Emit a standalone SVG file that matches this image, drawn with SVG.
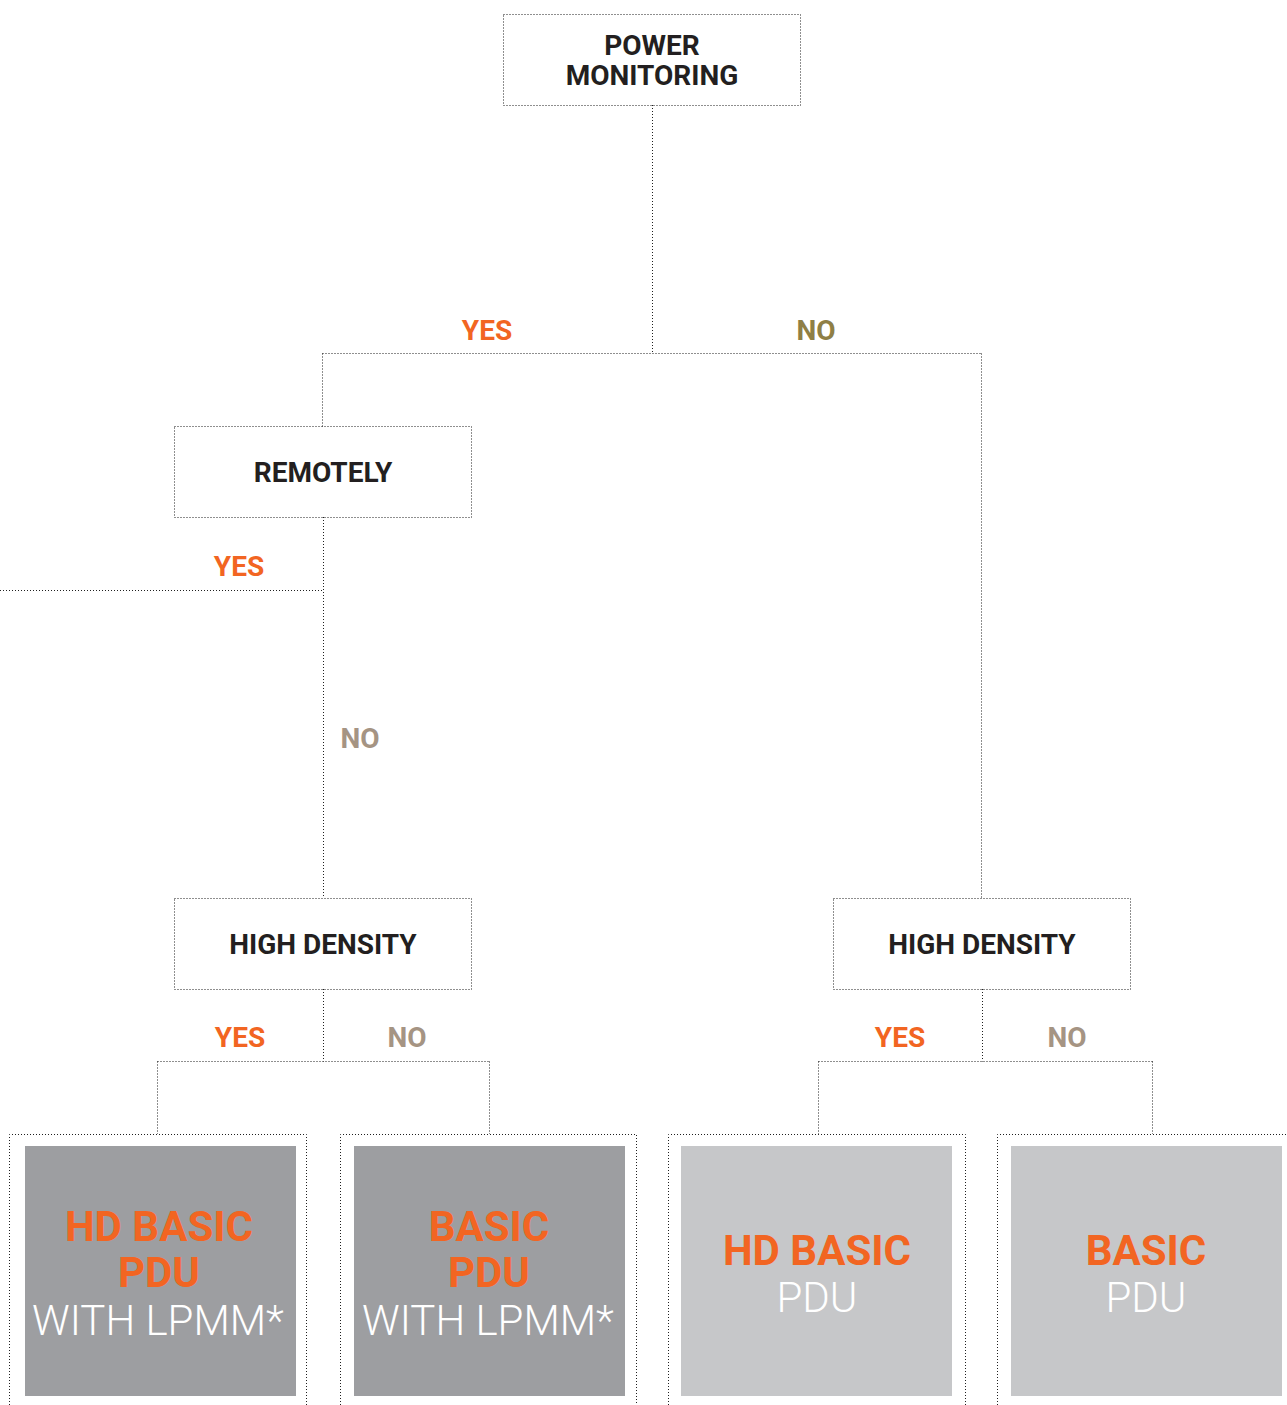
<svg xmlns="http://www.w3.org/2000/svg" width="1287" height="1405" viewBox="0 0 1287 1405">
<style>
.dot{fill:none;stroke:#1f1f1f;stroke-width:1;stroke-dasharray:1 2}
.q{font-family:Roboto,"Liberation Sans",sans-serif;font-weight:700;font-size:28px;fill:#231f20;text-anchor:middle}
.yes{font-family:Roboto,"Liberation Sans",sans-serif;font-weight:700;font-size:28px;fill:#f26522;text-anchor:middle}
.no{font-family:Roboto,"Liberation Sans",sans-serif;font-weight:700;font-size:28px;fill:#a59483;text-anchor:middle}
.no2{fill:#8f7f45}
.rb{font-family:Roboto,"Liberation Sans",sans-serif;font-weight:700;font-size:42px;fill:#f26522;text-anchor:middle}
.rl{font-family:Roboto,"Liberation Sans",sans-serif;font-weight:300;font-size:42px;fill:#ffffff;text-anchor:middle}
.dark{fill:#9d9ea1}
.light{fill:#c6c7c9}
</style>
<rect width="1287" height="1405" fill="#ffffff"/>
<g id="connectors">
<path class="dot" d="M652.5 105 V353.5 M322.5 353.5 H981.5 M322.5 353.5 V427 M981.5 353.5 V898"/>
<path class="dot" d="M323.5 517 V898 M0 590.5 H323.5"/>
<path class="dot" d="M323.5 989 V1061.5 M157.5 1061.5 H489.5 M157.5 1061.5 V1134 M489.5 1061.5 V1134"/>
<path class="dot" d="M982.5 989 V1061.5 M818.5 1061.5 H1152.5 M818.5 1061.5 V1134 M1152.5 1061.5 V1134"/>
<text class="yes" x="487" y="340">YES</text>
<text class="no no2" x="816" y="340">NO</text>
<text class="yes" x="239" y="576">YES</text>
<text class="no" x="360" y="748">NO</text>
<text class="yes" x="240" y="1047">YES</text>
<text class="no" x="407" y="1047">NO</text>
<text class="yes" x="900" y="1047">YES</text>
<text class="no" x="1067" y="1047">NO</text>
</g>
<g id="power-monitoring">
<rect class="dot" x="503.5" y="14.5" width="297" height="91"/>
<text class="q" x="652" y="55">POWER</text>
<text class="q" x="652" y="85">MONITORING</text>
</g>
<g id="remotely">
<rect class="dot" x="174.5" y="426.5" width="297" height="91"/>
<text class="q" x="323" y="482">REMOTELY</text>
</g>
<g id="high-density-left">
<rect class="dot" x="174.5" y="898.5" width="297" height="91"/>
<text class="q" x="323" y="954">HIGH DENSITY</text>
</g>
<g id="high-density-right">
<rect class="dot" x="833.5" y="898.5" width="297" height="91"/>
<text class="q" x="982" y="954">HIGH DENSITY</text>
</g>
<g id="result-hd-basic-lpmm">
<path class="dot" d="M9.5 1405 V1134.5 H306.5 V1405"/>
<rect class="dark" x="25" y="1146" width="271" height="250"/>
<text class="rb" x="159" y="1241">HD BASIC</text>
<text class="rb" x="159" y="1287">PDU</text>
<text class="rl" x="158" y="1335">WITH LPMM*</text>
</g>
<g id="result-basic-lpmm">
<path class="dot" d="M340.5 1405 V1134.5 H636.5 V1405"/>
<rect class="dark" x="354" y="1146" width="271" height="250"/>
<text class="rb" x="489" y="1241">BASIC</text>
<text class="rb" x="489" y="1287">PDU</text>
<text class="rl" x="488" y="1335">WITH LPMM*</text>
</g>
<g id="result-hd-basic">
<path class="dot" d="M668.5 1405 V1134.5 H965.5 V1405"/>
<rect class="light" x="681" y="1146" width="271" height="250"/>
<text class="rb" x="817" y="1265">HD BASIC</text>
<text class="rl" x="817" y="1312">PDU</text>
</g>
<g id="result-basic">
<path class="dot" d="M997.5 1405 V1134.5 H1287"/>
<rect class="light" x="1011" y="1146" width="271" height="250"/>
<text class="rb" x="1146" y="1265">BASIC</text>
<text class="rl" x="1146" y="1312">PDU</text>
</g>
</svg>
